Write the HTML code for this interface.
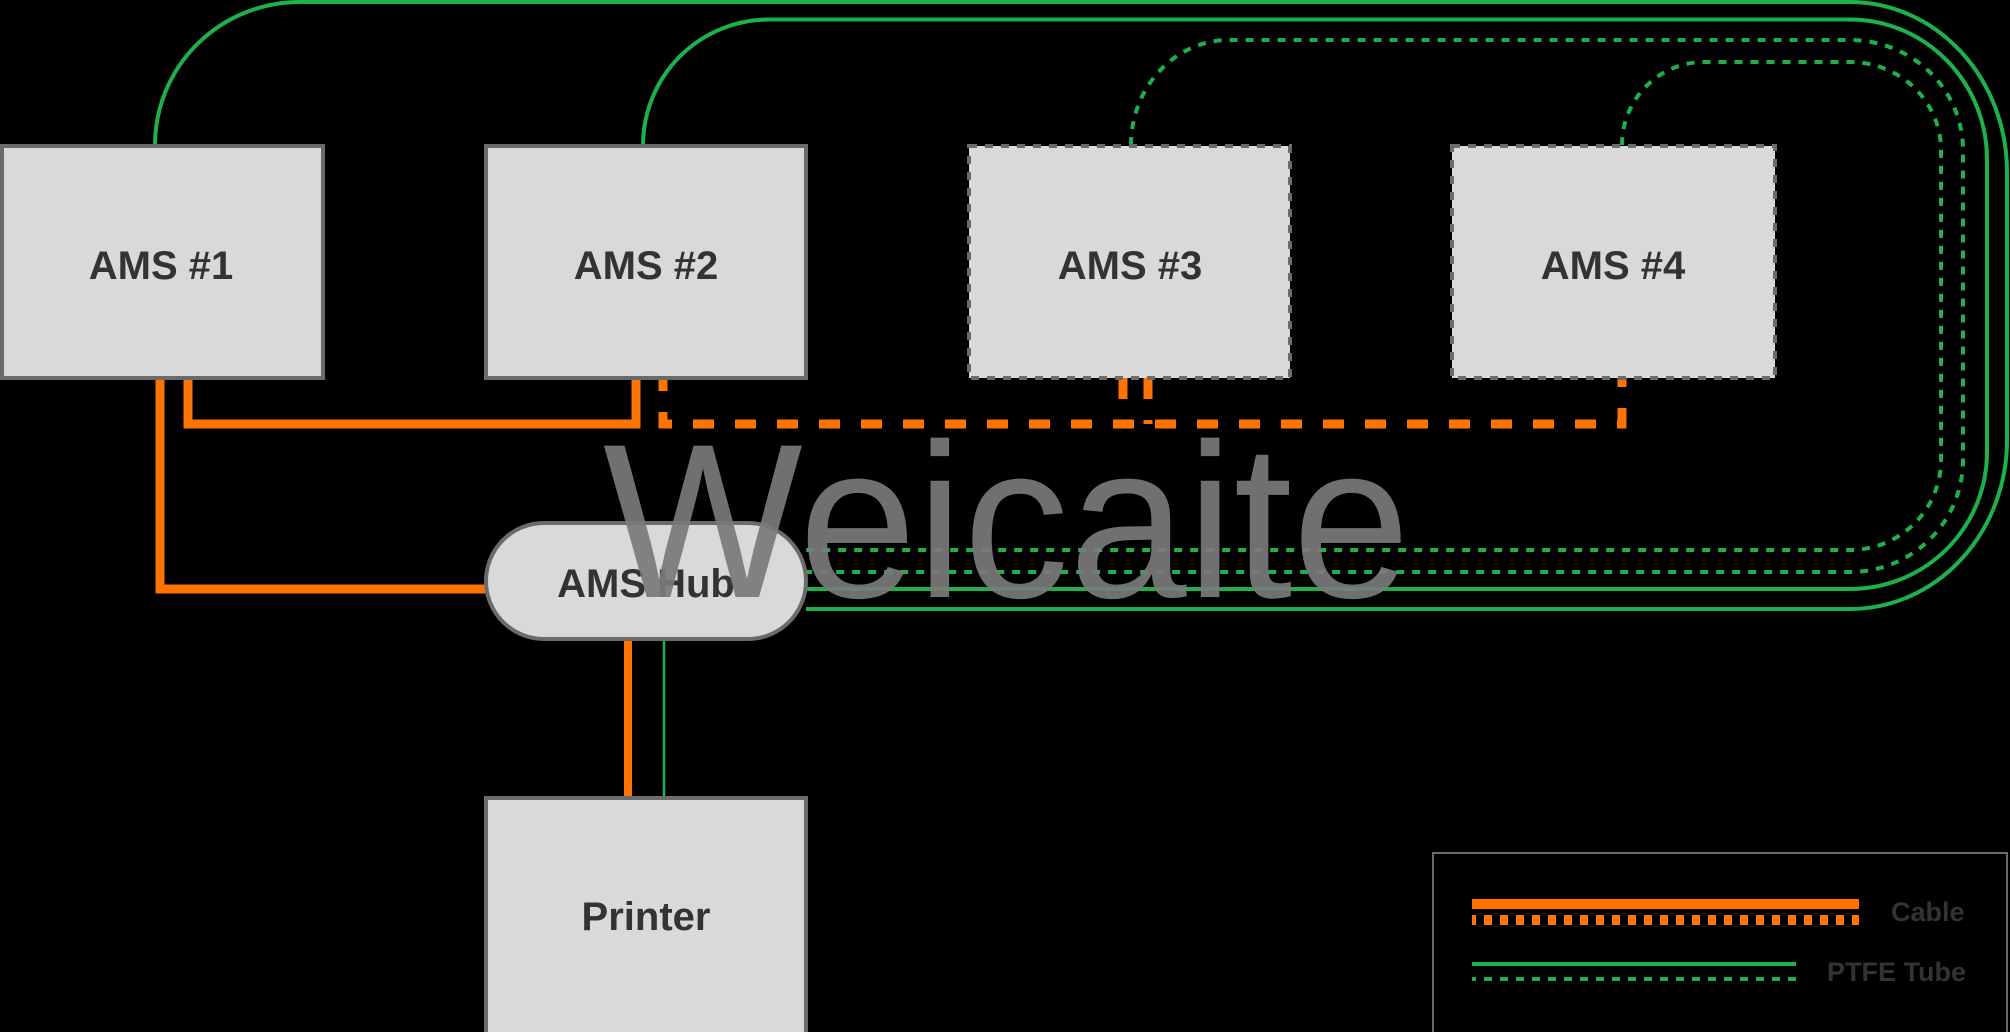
<!DOCTYPE html>
<html><head><meta charset="utf-8"><style>
html,body{margin:0;padding:0;background:#000;}
svg{display:block;}
</style></head><body>
<svg width="2010" height="1032" viewBox="0 0 2010 1032" xmlns="http://www.w3.org/2000/svg">
<rect width="2010" height="1032" fill="#000"/>
<g fill="none" stroke="#1db14c" stroke-width="4">
  <!-- outer solid from AMS1 -->
  <path d="M155 145 A145 143 0 0 1 300 2 L1850 2 A157 170 0 0 1 2007 172 L2007 440 A157 169 0 0 1 1850 609 L806 609"/>
  <!-- solid from AMS2 -->
  <path d="M643 145 A126 126 0 0 1 769 19.5 L1850 19.5 A137 140 0 0 1 1987 160 L1987 452 A137 137 0 0 1 1850 589 L806 589"/>
  <!-- dashed from AMS3 -->
  <path stroke-dasharray="8 8" d="M1131 145 A98 105 0 0 1 1229 40 L1850 40 A113 110 0 0 1 1963 150 L1963 460 A113 112 0 0 1 1850 572 L806 572"/>
  <!-- dashed from AMS4 -->
  <path stroke-dasharray="8 8" d="M1622 145 A82 83 0 0 1 1704 62 L1850 62 A91 88 0 0 1 1941 150 L1941 460 A91 90 0 0 1 1850 550 L806 550"/>
  <line x1="664" y1="639" x2="664" y2="797" stroke-width="2.5"/>
</g>
<g fill="none" stroke="#ff7400" stroke-width="9">
  <path d="M160 378 L160 589 L486 589"/>
  <path d="M188 378 L188 424 L636 424 L636 378"/>
  <line x1="628" y1="639" x2="628" y2="797" stroke-width="8"/>
  <g stroke-dasharray="21 21">
    <path d="M663 378 L663 424 L1622 424 L1622 378" stroke-dashoffset="8"/>
    <path d="M1123 378 L1123 424"/>
    <path d="M1148 378 L1148 424"/>
  </g>
</g>
<g stroke="#6b6b6b" stroke-width="4" fill="#d9d9d9">
  <rect x="2" y="146" width="321" height="232"/>
  <rect x="486" y="146" width="320" height="232"/>
  <rect x="969" y="146" width="321" height="232" stroke-dasharray="8 8"/>
  <rect x="1452" y="146" width="323" height="232" stroke-dasharray="8 8"/>
  <rect x="486" y="523" width="320" height="116" rx="58" ry="58"/>
  <rect x="486" y="798" width="320" height="240"/>
</g>
<g font-family="'Liberation Sans', sans-serif" font-weight="bold" font-size="40" fill="#333" text-anchor="middle">
  <text x="161" y="279">AMS #1</text>
  <text x="646" y="279">AMS #2</text>
  <text x="1130" y="279">AMS #3</text>
  <text x="1613" y="279">AMS #4</text>
  <text x="646" y="597">AMS Hub</text>
  <text x="646" y="930">Printer</text>
</g>
<text x="603" y="597" font-family="'Liberation Sans', sans-serif" font-size="220" fill="#7a7a7a" fill-opacity="0.92" textLength="807" lengthAdjust="spacingAndGlyphs">Weicaite</text>
<!-- legend -->
<rect x="1433" y="853" width="574" height="180" fill="none" stroke="#6b6b6b" stroke-width="2"/>
<rect x="1472" y="899" width="387" height="10" fill="#ff7400"/>
<line x1="1472" y1="920" x2="1859" y2="920" stroke="#ff7400" stroke-width="10" stroke-dasharray="8 8" stroke-dashoffset="4"/>
<rect x="1472" y="962" width="324" height="4" fill="#1db14c"/>
<line x1="1472" y1="979" x2="1796" y2="979" stroke="#1db14c" stroke-width="4" stroke-dasharray="8 8" stroke-dashoffset="4"/>
<g font-family="'Liberation Sans', sans-serif" font-weight="bold" font-size="27" fill="#333">
  <text x="1891" y="921">Cable</text>
  <text x="1827" y="981">PTFE Tube</text>
</g>
</svg>
</body></html>
